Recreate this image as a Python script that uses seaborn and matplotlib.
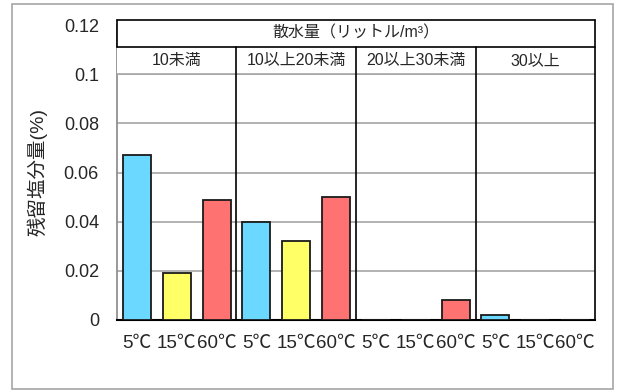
import matplotlib
matplotlib.use("Agg")
import matplotlib.pyplot as plt
import seaborn as sns
import pandas as pd
from matplotlib.patches import Rectangle

# Residual salt by sprinkling amount and temperature
groups = ["10未満", "10以上20未満", "20以上30未満", "30以上"]
temps = ["5℃", "15℃", "60℃"]
vals_5c = [0.067, 0.040, 0.0, 0.002]
vals_15c = [0.019, 0.032, 0.0, 0.0]
vals_60c = [0.049, 0.050, 0.008, 0.0]
header = "散水量（リットル/m³）"
ylabel = "残留塩分量(%)"
yticks = [0, 0.02, 0.04, 0.06, 0.08, 0.1, 0.12]
ytick_labels = ["0", "0.02", "0.04", "0.06", "0.08", "0.1", "0.12"]
colors = ["#6ad8ff", "#ffff66", "#ff7272"]

sns.set_style("white")
plt.rcParams["font.family"] = ["Liberation Sans", "Noto Sans CJK JP", "DejaVu Sans"]

rows = []
series = [vals_5c, vals_15c, vals_60c]
for g in range(len(groups)):
    for t, temp in enumerate(temps):
        rows.append({"slot": g * 3 + t, "temp": temp, "value": series[t][g]})
df = pd.DataFrame(rows)

fig = plt.figure(figsize=(6.17, 3.92), dpi=100)
ax = fig.add_axes([117 / 617, 1 - 320 / 392, (595 - 117) / 617, (320 - 25) / 392])

sns.barplot(data=df, x="slot", y="value", hue="temp", hue_order=temps,
            palette=colors, saturation=1, dodge=False, width=0.7,
            edgecolor="#1a1a1a", linewidth=1.3, legend=False, ax=ax, zorder=3)

ax.set_xlim(-0.5, 11.5)
ax.set_ylim(0, 0.12)
ax.set_yticks(yticks)
ax.set_yticklabels(ytick_labels, fontsize=13)
ax.yaxis.grid(True, color="#a6a6a6", linewidth=1.2, zorder=0)
ax.set_axisbelow(True)

# x labels at each bar, ticks only at group boundaries
ax.set_xticks(range(12))
ax.set_xticklabels(temps * len(groups), fontsize=13.5)
ax.tick_params(axis="x", length=0, pad=11)
ax.set_xticks([-0.5, 2.5, 5.5, 8.5, 11.5], minor=True)
ax.tick_params(axis="x", which="minor", length=4, width=1.2, color="black")
ax.tick_params(axis="y", length=5, width=1, color="#888888", pad=8)
ax.set_xlabel("")
ax.set_ylabel("")

for side in ["top", "right"]:
    ax.spines[side].set_visible(False)
ax.spines["left"].set_color("#888888")
ax.spines["left"].set_linewidth(1.2)
ax.spines["bottom"].set_color("black")
ax.spines["bottom"].set_linewidth(1.5)

# header table above the bars
top, mid, bot = 0.1222, 0.1111, 0.1

# group separators up to the group-name row, right border to the top
for xb in [2.5, 5.5, 8.5]:
    ax.plot([xb, xb], [0, mid], color="black", linewidth=1.2,
            clip_on=False, zorder=6)
ax.plot([11.5, 11.5], [0, top], color="black", linewidth=1.2,
        clip_on=False, zorder=6)

ax.add_patch(Rectangle((-0.5, bot), 12, top - bot, facecolor="white",
                       edgecolor="none", clip_on=False, zorder=4))
ax.plot([-0.5, 11.5], [top, top], color="black", linewidth=1.2, clip_on=False, zorder=6)
ax.plot([-0.5, 11.5], [mid, mid], color="black", linewidth=1.2, clip_on=False, zorder=6)
ax.plot([-0.5, 11.5], [bot, bot], color="#a6a6a6", linewidth=1.2, clip_on=False, zorder=5)
ax.plot([-0.5, -0.5], [mid, top], color="black", linewidth=1.2, clip_on=False, zorder=6)
ax.text(5.5, (top + mid) / 2, header, ha="center", va="center", fontsize=11.5,
        zorder=7)
for g, name in enumerate(groups):
    ax.text(g * 3 + 1, (mid + bot) / 2, name, ha="center", va="center",
            fontsize=11.5, zorder=7)

fig.text(37 / 617, 1 - 172 / 392, ylabel, rotation=90, ha="center",
         va="center", fontsize=14)

# outer chart border
fig.patches.append(Rectangle((12 / 617, 1 - 389 / 392), 601 / 617, 385 / 392,
                             transform=fig.transFigure, fill=False,
                             edgecolor="#a6a6a6", linewidth=1.2))

fig.savefig("out.png", dpi=100)
